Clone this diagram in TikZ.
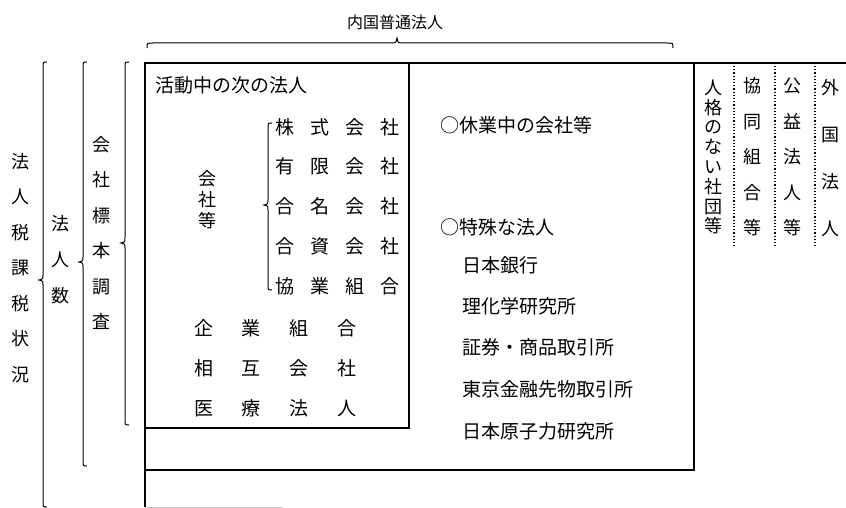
\documentclass[tikz,border=0pt]{standalone}
\usepackage{fontspec}
\newfontfamily\jp{Noto Sans CJK JP}
\newcommand\vbrc[4]{% x, top, bottom, tip y
  \draw[brc] (#1+4,#2) .. controls (#1,#2) .. (#1,#2+5) -- (#1,#4-5)
    .. controls (#1,#4-1) .. (#1-4,#4) .. controls (#1,#4+1) .. (#1,#4+5)
    -- (#1,#3-5) .. controls (#1,#3) .. (#1+4,#3);}
\begin{document}
\begin{tikzpicture}[x=1pt,y=-1pt,
  txt/.style={font=\jp\fontsize{19}{19}\selectfont, inner sep=0pt},
  vtxt/.style={font=\jp\fontsize{18}{#1}\selectfont, inner sep=0pt, align=center},
  frame/.style={line width=1.1pt},
  brc/.style={line width=1pt},
  dotsep/.style={dotted, line width=1.2pt}]
\useasboundingbox (0,0) rectangle (846,508);

% title and top brace
\node[txt, font=\jp\fontsize{16}{16}\selectfont] (title) at (395,22) {内国普通法人};
\draw[brc] (147,48) .. controls (147,43) .. (153,43) -- (391,43)
  .. controls (396,43) .. (397,38) .. controls (398,43) .. (403,43)
  -- (667,43) .. controls (673,43) .. (673,48);

% left braces and labels
\vbrc{43}{62}{507}{280}
\vbrc{83}{62}{466}{262}
\vbrc{125}{62}{425}{243}
\node[vtxt=35.5] (hz) at (20,268) {法\\人\\税\\課\\税\\状\\況};
\node[vtxt=36] (hn) at (60,260) {法\\人\\数};
\node[vtxt=35.5] (ks) at (101,233) {会\\社\\標\\本\\調\\査};

% frames
\draw[frame] (145,507) -- (145,63) -- (846,63);
\draw[frame] (145,470) -- (694,470) -- (694,63);
\draw[frame] (145,428) -- (409,428) -- (409,63);
\draw[line width=1pt, gray!45] (145,507) -- (283,507);
\draw[dotsep] (734,66) -- (734,247);
\draw[dotsep] (775,66) -- (775,247);
\draw[dotsep] (815,66) -- (815,247);

% inner box
\node[txt, anchor=west] (katsudo) at (155,85) {活動中の次の法人};
\vbrc{268}{123}{290}{205}
\node[vtxt=19, font=\jp\fontsize{18}{21}\selectfont] (kt) at (207,200) {会\\社\\等};
\node[txt] (r1) at (337.5,127) {株\hspace{16pt}式\hspace{16pt}会\hspace{16pt}社};
\node[txt] (r2) at (337.5,166) {有\hspace{16pt}限\hspace{16pt}会\hspace{16pt}社};
\node[txt] (r3) at (337.5,206) {合\hspace{16pt}名\hspace{16pt}会\hspace{16pt}社};
\node[txt] (r4) at (337.5,246) {合\hspace{16pt}資\hspace{16pt}会\hspace{16pt}社};
\node[txt] (r5) at (337.5,286) {協\hspace{16pt}業\hspace{16pt}組\hspace{16pt}合};
\node[txt] (s1) at (275.5,328) {企\hspace{29pt}業\hspace{29pt}組\hspace{29pt}合};
\node[txt] (s2) at (275.5,368) {相\hspace{29pt}互\hspace{29pt}会\hspace{29pt}社};
\node[txt] (s3) at (275.5,408) {医\hspace{29pt}療\hspace{29pt}法\hspace{29pt}人};

% right part of main box
\node[txt, anchor=west] (kyugyo) at (440,125) {○休業中の会社等};
\node[txt, anchor=west] (tokushu) at (440,227) {○特殊な法人};
\node[txt, anchor=west] (t1) at (462,265) {日本銀行};
\node[txt, anchor=west] (t2) at (462,306) {理化学研究所};
\node[txt, anchor=west] (t3) at (462,347) {証券・商品取引所};
\node[txt, anchor=west] (t4) at (462,389) {東京金融先物取引所};
\node[txt, anchor=west] (t5) at (462,431) {日本原子力研究所};

% right columns
\node[vtxt=19.8] (c1) at (713,157) {人\\格\\の\\な\\い\\社\\団\\等};
\node[vtxt=35.5] (c2) at (752,157) {協\\同\\組\\合\\等};
\node[vtxt=35.5] (c3) at (792,157) {公\\益\\法\\人\\等};
\node[vtxt=47] (c4) at (830,158) {外\\国\\法\\人};
\end{tikzpicture}
\end{document}
